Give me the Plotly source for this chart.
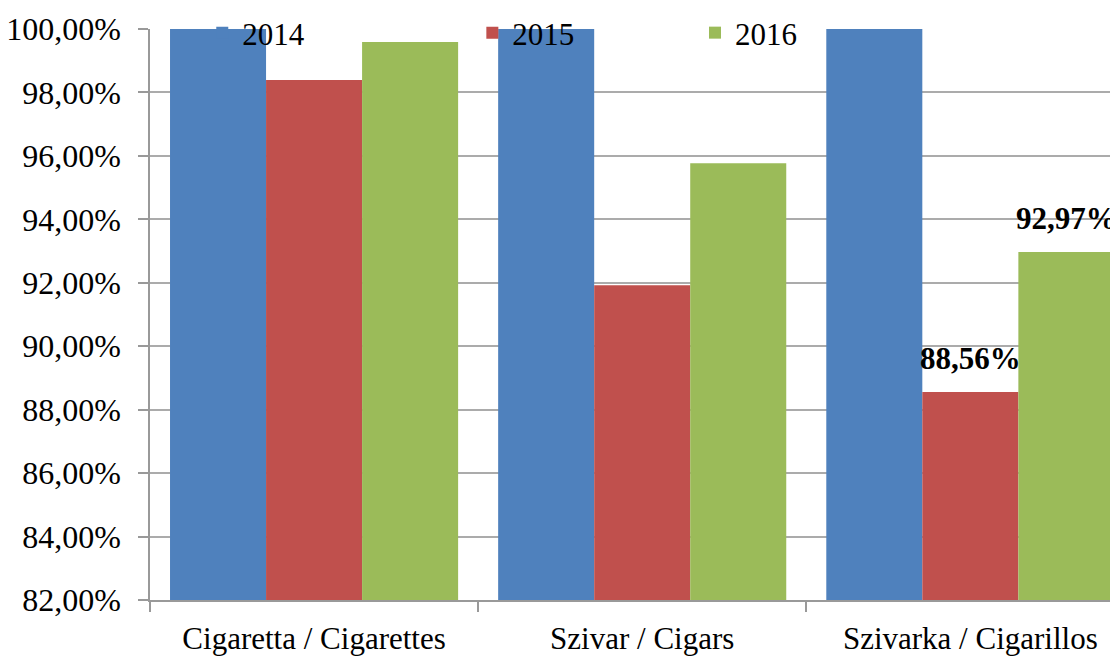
import plotly.graph_objects as go

categories = ["Cigaretta / Cigarettes", "Szivar / Cigars", "Szivarka / Cigarillos"]
years = ["2014", "2015", "2016"]
values_2014 = [100.0, 100.0, 100.0]
values_2015 = [98.39, 91.92, 88.56]
values_2016 = [99.59, 95.77, 92.97]
labeled_index = [2]  # only the cigarillos bars carry labels
y_ticks = [82, 84, 86, 88, 90, 92, 94, 96, 98, 100]

colors = ["#4F81BD", "#C0504D", "#9BBB59"]
series = [values_2014, values_2015, values_2016]
show_labels = [False, True, True]

FONT = "Liberation Serif, Times New Roman, serif"
BODY = 8  # default page body margin
W, H = 1118 - BODY, 657 - BODY
ML, MR, MT, MB = 150 - BODY, 0, 29 - BODY, 57
X_RANGE = [-0.5, 2.45]
BARGAP = 0.122

def fmt(v):
    return f"{v:.2f}".replace(".", ",") + "%"

fig = go.Figure()
legend_names = ["legend", "legend2", "legend3"]
for i, (yr, vals, col) in enumerate(zip(years, series, colors)):
    fig.add_trace(go.Bar(
        name=yr, x=categories, y=vals, marker=dict(color=col, line=dict(width=0)),
        legend=legend_names[i],
    ))

# bar-end labels, positioned from data values and the bar geometry
plot_w = W - ML - MR
cat_px = plot_w / (X_RANGE[1] - X_RANGE[0])
bar_px = cat_px * (1 - BARGAP) / len(series)
for i, vals in enumerate(series):
    if not show_labels[i]:
        continue
    for j in labeled_index:
        fig.add_annotation(
            x=categories[j], y=vals[j], xref="x", yref="y", text=fmt(vals[j]),
            showarrow=False, yanchor="bottom", yshift=14,
            xshift=(i - (len(series) - 1) / 2) * bar_px,
            font=dict(family=FONT, size=31, color="black", weight="bold"),
        )

leg_common = dict(orientation="h", bgcolor="rgba(0,0,0,0)", font=dict(family=FONT, size=31, color="black"),
                  yanchor="middle", y=0.993, xanchor="left", itemwidth=30)
fig.update_layout(
    width=W, height=H,
    margin=dict(l=ML, r=MR, t=MT, b=MB, autoexpand=False),
    paper_bgcolor="white", plot_bgcolor="white",
    font=dict(family=FONT, color="black"),
    barmode="group", bargap=BARGAP, bargroupgap=0,
    showlegend=True,
    legend=dict(x=0.054, **leg_common),
    legend2=dict(x=0.333, **leg_common),
    legend3=dict(x=0.563, **leg_common),
)
fig.update_xaxes(
    range=X_RANGE, showline=True, linecolor="#999999", linewidth=1.5,
    ticks="outside", tickson="boundaries", ticklen=10, tickcolor="#999999", tickwidth=1.5,
    tickfont=dict(family=FONT, size=31, color="black"), ticklabelstandoff=10,
    showgrid=False,
)
fig.update_yaxes(
    range=[82, 100], tickvals=y_ticks, ticktext=[fmt(v) for v in y_ticks],
    showline=True, linecolor="#999999", linewidth=1.5,
    ticks="outside", ticklen=10, tickcolor="#999999", tickwidth=1.5,
    gridcolor="#ABABAB", gridwidth=1.5,
    tickfont=dict(family=FONT, size=32, color="black"), ticklabelstandoff=11,
    zeroline=False,
)
fig.write_html("out.html")
